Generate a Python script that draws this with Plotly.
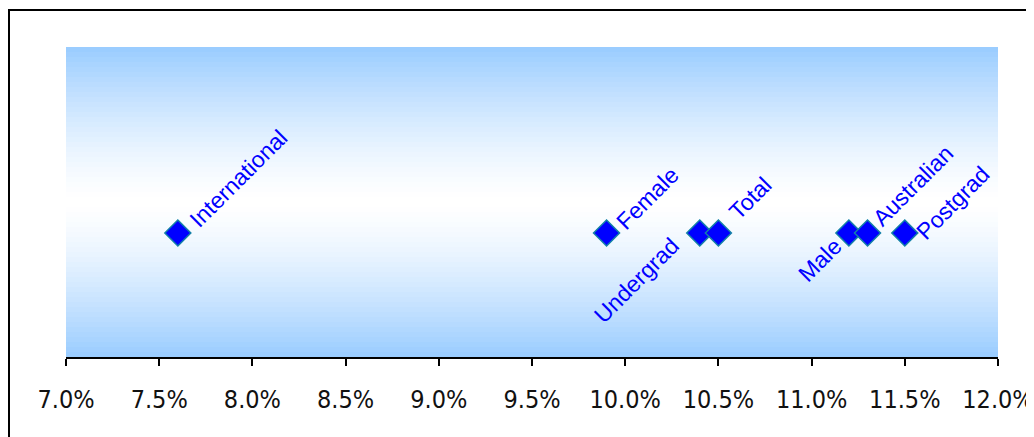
import plotly.graph_objects as go

# ---- data ----
labels = ["International", "Female", "Undergrad", "Total", "Male", "Australian", "Postgrad"]
values = [0.076, 0.099, 0.104, 0.105, 0.112, 0.113, 0.115]
y_pos = [0.4, 0.4, 0.4, 0.4, 0.4, 0.4, 0.4]
tick_vals = [0.07, 0.075, 0.08, 0.085, 0.09, 0.095, 0.10, 0.105, 0.11, 0.115, 0.12]
tick_text = ["7.0%", "7.5%", "8.0%", "8.5%", "9.0%", "9.5%", "10.0%", "10.5%", "11.0%", "11.5%", "12.0%"]

# label offsets (pixels) of the rotated label centres relative to the marker
label_shift = {
    "International": (61, 55),
    "Female": (41, 35),
    "Undergrad": (-63, -47),
    "Total": (32, 35),
    "Male": (-29, -27),
    "Australian": (45, 47),
    "Postgrad": (48, 30),
}

L, T, W, H = 58, 39, 932, 310
FW, FH = 1026, 429

fig = go.Figure()
fig.add_trace(go.Scatter(
    x=values, y=y_pos, mode="markers",
    marker=dict(symbol="diamond", size=20, color="#0000FF",
                line=dict(color="#1380A8", width=1.5)),
    hoverinfo="skip", showlegend=False,
))

for lab, v, yy in zip(labels, values, y_pos):
    dx, dy = label_shift[lab]
    fig.add_annotation(
        x=v, y=yy, xref="x", yref="y", text=lab, showarrow=False,
        textangle=-45, xanchor="center", yanchor="middle",
        xshift=dx, yshift=dy,
        font=dict(family="Liberation Sans, Arial, sans-serif", size=23, color="#0000FF"),
    )

# vertical gradient background (blue - white - blue)
shapes = []
n = 62
top = (153, 204, 255)
for i in range(n):
    y0 = i / n
    y1 = (i + 1) / n
    mid = (y0 + y1) / 2
    t = (abs(mid - 0.5) / 0.5) ** 1.4  # 0 at centre, 1 at edges
    c = tuple(round(255 + (tc - 255) * t) for tc in top)
    shapes.append(dict(type="rect", xref="paper", yref="paper", x0=0, x1=1,
                       y0=y0, y1=min(1, y1 + 0.002), layer="below", line=dict(width=0),
                       fillcolor="rgb(%d,%d,%d)" % c))
# outer chart border
shapes.append(dict(type="rect", xref="paper", yref="paper",
                   x0=(1 - L) / W, x1=1.1, y0=-0.5, y1=(T + H - 2) / H,
                   line=dict(color="black", width=2), fillcolor="rgba(0,0,0,0)",
                   layer="above"))

fig.update_layout(
    width=FW, height=FH,
    margin=dict(l=L, r=FW - L - W, t=T, b=FH - T - H, autoexpand=False),
    paper_bgcolor="white", plot_bgcolor="rgba(0,0,0,0)",
    shapes=shapes,
    xaxis=dict(range=[0.07, 0.12], tickvals=tick_vals, ticktext=tick_text,
               automargin=False,
               showgrid=False, zeroline=False, showline=True, linecolor="black",
               linewidth=2, ticks="outside", ticklen=7, tickwidth=1.5, tickcolor="black",
               ticklabeloverflow="allow", ticklabelstandoff=12,
               tickfont=dict(family="Liberation Sans Narrow, DejaVu Sans Condensed, Arial Narrow, sans-serif",
                             size=25, color="#111111"),
               fixedrange=True),
    yaxis=dict(range=[0, 1], visible=False, showgrid=False, zeroline=False, fixedrange=True,
               automargin=False),
)

fig.write_html("out.html")
